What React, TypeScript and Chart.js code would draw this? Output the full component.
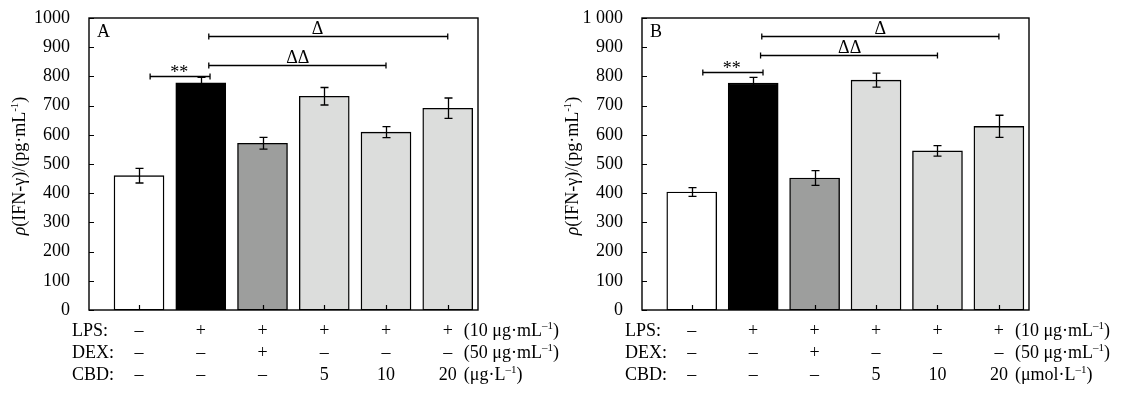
import { useEffect, useRef } from 'react';
import { Chart, registerables } from 'chart.js';

Chart.register(...registerables);

const FONT = '"Liberation Serif", "Times New Roman", serif';
const FS = 18;

// ---------- data ----------
const positions = [1, 2, 3, 4, 5, 6];
const barColors = ['#ffffff', '#000000', '#9d9e9d', '#dcdddc', '#dcdddc', '#dcdddc'];

const valuesA = [460, 778, 571, 732, 609, 691];
const errorsA = [25, 19, 20, 30, 19, 35];
const valuesB = [404, 777, 452, 787, 545, 629];
const errorsB = [15, 20, 25, 24, 18, 38];

const yTicksA = ['0', '100', '200', '300', '400', '500', '600', '700', '800', '900', '1000'];
const yTicksB = ['0', '100', '200', '300', '400', '500', '600', '700', '800', '900', '1 000'];

const rowLabels = ['LPS:', 'DEX:', 'CBD:'];
const lpsRow = ['–', '+', '+', '+', '+', '+'];
const dexRow = ['–', '–', '+', '–', '–', '–'];
const cbdRow = ['–', '–', '–', '5', '10', '20'];
const unitsA = ['(10 μg·mL^{–1})', '(50 μg·mL^{–1})', '(μg·L^{–1})'];
const unitsB = ['(10 μg·mL^{–1})', '(50 μg·mL^{–1})', '(μmol·L^{–1})'];

const bracketsA = [
  { from: 1.18, to: 2.15, y: 803, label: '**', at: 1.65 },
  { from: 2.13, to: 5.0, y: 839, label: 'ΔΔ', at: 3.57 },
  { from: 2.13, to: 6.0, y: 938, label: 'Δ', at: 3.89 },
];
const bracketsB = [
  { from: 1.18, to: 2.16, y: 816, label: '**', at: 1.65 },
  { from: 2.12, to: 5.0, y: 872, label: 'ΔΔ', at: 3.57 },
  { from: 2.14, to: 6.0, y: 938, label: 'Δ', at: 4.07 },
];

const yTitle = [
  { t: 'ρ', italic: true },
  { t: '(IFN-γ)/(pg·mL' },
  { t: '-1', sup: true },
  { t: ')' },
];

type Seg = { t: string; italic?: boolean; sup?: boolean };

function parseRich(s: string): Seg[] {
  const out: Seg[] = [];
  const re = /\^\{([^}]*)\}/g;
  let last = 0;
  let m: RegExpExecArray | null;
  while ((m = re.exec(s))) {
    if (m.index > last) out.push({ t: s.slice(last, m.index) });
    out.push({ t: m[1], sup: true });
    last = m.index + m[0].length;
  }
  if (last < s.length) out.push({ t: s.slice(last) });
  return out;
}

function segFont(sg: Seg) {
  const size = sg.sup ? Math.round(FS * 0.62) : FS;
  return `${sg.italic ? 'italic ' : ''}${size}px ${FONT}`;
}

function drawRich(ctx: CanvasRenderingContext2D, segs: Seg[], x: number, y: number, align: 'left' | 'center') {
  ctx.save();
  ctx.textAlign = 'left';
  ctx.textBaseline = 'alphabetic';
  let total = 0;
  const widths = segs.map((sg) => {
    ctx.font = segFont(sg);
    const w = ctx.measureText(sg.t).width;
    total += w;
    return w;
  });
  let cx = align === 'center' ? x - total / 2 : x;
  segs.forEach((sg, i) => {
    ctx.font = segFont(sg);
    ctx.fillText(sg.t, cx, sg.sup ? y - FS * 0.38 : y);
    cx += widths[i];
  });
  ctx.restore();
}

type PanelCfg = {
  letter: string;
  values: number[];
  errors: number[];
  yTicks: string[];
  units: string[];
  brackets: { from: number; to: number; y: number; label: string; at: number }[];
  yAxisWidth: number;
  padRight: number;
};

function makeDecor(cfg: PanelCfg) {
  return {
    id: 'decor' + cfg.letter,
    afterDatasetsDraw(chart: any) {
      const ctx: CanvasRenderingContext2D = chart.ctx;
      const a = chart.chartArea;
      const xs = chart.scales.x;
      const ys = chart.scales.y;
      ctx.save();
      ctx.strokeStyle = '#000';
      ctx.fillStyle = '#000';

      // inward ticks
      ctx.lineWidth = 1.2;
      ctx.beginPath();
      for (let v = 0; v <= 1000; v += 100) {
        const py = Math.round(ys.getPixelForValue(v)) + 0.5;
        ctx.moveTo(a.left, py);
        ctx.lineTo(a.left + 5, py);
      }
      positions.forEach((p) => {
        const px = Math.round(xs.getPixelForValue(p)) + 0.5;
        ctx.moveTo(px, a.bottom);
        ctx.lineTo(px, a.bottom - 5);
      });
      ctx.stroke();

      // error bars
      ctx.lineWidth = 1.3;
      ctx.beginPath();
      positions.forEach((p, i) => {
        const px = Math.round(xs.getPixelForValue(p)) + 0.5;
        const top = ys.getPixelForValue(cfg.values[i] + cfg.errors[i]);
        const bot = ys.getPixelForValue(cfg.values[i] - cfg.errors[i]);
        ctx.moveTo(px, top);
        ctx.lineTo(px, bot);
        ctx.moveTo(px - 4, top);
        ctx.lineTo(px + 4, top);
        ctx.moveTo(px - 4, bot);
        ctx.lineTo(px + 4, bot);
      });
      ctx.stroke();

      // box
      ctx.lineWidth = 1.4;
      ctx.strokeRect(a.left, a.top, a.right - a.left, a.bottom - a.top);

      // brackets
      ctx.lineWidth = 1.3;
      cfg.brackets.forEach((b) => {
        const x1 = xs.getPixelForValue(b.from);
        const x2 = xs.getPixelForValue(b.to);
        const py = Math.round(ys.getPixelForValue(b.y)) + 0.5;
        ctx.beginPath();
        ctx.moveTo(x1, py);
        ctx.lineTo(x2, py);
        ctx.moveTo(x1, py - 3);
        ctx.lineTo(x1, py + 3);
        ctx.moveTo(x2, py - 3);
        ctx.lineTo(x2, py + 3);
        ctx.stroke();
        const lx = xs.getPixelForValue(b.at);
        ctx.font = `${FS}px ${FONT}`;
        ctx.textAlign = 'center';
        ctx.textBaseline = 'alphabetic';
        ctx.fillText(b.label, lx, b.label === '**' ? py + 1 : py - 3);
      });

      // panel letter
      ctx.font = `${FS}px ${FONT}`;
      ctx.textAlign = 'left';
      ctx.textBaseline = 'alphabetic';
      ctx.fillText(cfg.letter, a.left + 8, a.top + 19);

      // table
      const rows = [lpsRow, dexRow, cbdRow];
      const rowY = [336, 358, 380];
      rows.forEach((row, r) => {
        ctx.font = `${FS}px ${FONT}`;
        ctx.textAlign = 'left';
        ctx.fillText(rowLabels[r], a.left - 17, rowY[r]);
        ctx.textAlign = 'center';
        row.forEach((s, i) => {
          ctx.fillText(s, xs.getPixelForValue(positions[i]), rowY[r]);
        });
        drawRich(ctx, parseRich(cfg.units[r]), xs.getPixelForValue(6) + 16, rowY[r], 'left');
      });

      // y title
      ctx.save();
      ctx.translate(a.left - 64, 166);
      ctx.rotate(-Math.PI / 2);
      drawRich(ctx, yTitle, 0, 0, 'center');
      ctx.restore();

      ctx.restore();
    },
  };
}

function Panel({ cfg, left, width }: { cfg: PanelCfg; left: number; width: number }) {
  const ref = useRef<HTMLCanvasElement | null>(null);
  useEffect(() => {
    if (!ref.current) return;
    const chart = new Chart(ref.current, {
      type: 'bar',
      data: {
        datasets: [
          {
            data: positions.map((p, i) => ({ x: p, y: cfg.values[i] })) as any,
            backgroundColor: barColors,
            borderColor: '#000',
            borderWidth: 1.4,
            borderSkipped: false,
            barThickness: 50,
          },
        ],
      },
      options: {
        animation: false,
        responsive: false,
        layout: { padding: { top: 18, bottom: 86, left: 0, right: cfg.padRight } },
        plugins: { legend: { display: false }, tooltip: { enabled: false } },
        scales: {
          x: { type: 'linear', min: 0.19, max: 6.49, display: false, offset: false, grid: { offset: false } },
          y: {
            min: 0,
            max: 1000,
            ticks: {
              stepSize: 100,
              color: '#000',
              padding: 11,
              font: { family: FONT, size: FS },
              callback: (v: any) => cfg.yTicks[Math.round(Number(v) / 100)],
            },
            grid: { display: false },
            border: { display: false },
            afterFit: (s: any) => {
              s.width = cfg.yAxisWidth;
              s.paddingTop = 0;
              s.paddingBottom = 0;
            },
          },
        },
      } as any,
      plugins: [makeDecor(cfg)],
    });
    return () => chart.destroy();
  }, [cfg]);
  return (
    <canvas
      ref={ref}
      width={width}
      height={396}
      style={{ position: 'absolute', left, top: 0, width, height: 396 }}
    />
  );
}

const cfgA: PanelCfg = {
  letter: 'A',
  values: valuesA,
  errors: errorsA,
  yTicks: yTicksA,
  units: unitsA,
  brackets: bracketsA,
  yAxisWidth: 89,
  padRight: 570 - 478,
};
const cfgB: PanelCfg = {
  letter: 'B',
  values: valuesB,
  errors: errorsB,
  yTicks: yTicksB,
  units: unitsB,
  brackets: bracketsB,
  yAxisWidth: 92,
  padRight: 584 - 479,
};

export default function App() {
  return (
    <div style={{ position: 'fixed', left: 0, top: 0, width: 1134, height: 396, background: '#fff', overflow: 'hidden' }}>
      <Panel cfg={cfgA} left={0} width={570} />
      <Panel cfg={cfgB} left={550} width={584} />
    </div>
  );
}
